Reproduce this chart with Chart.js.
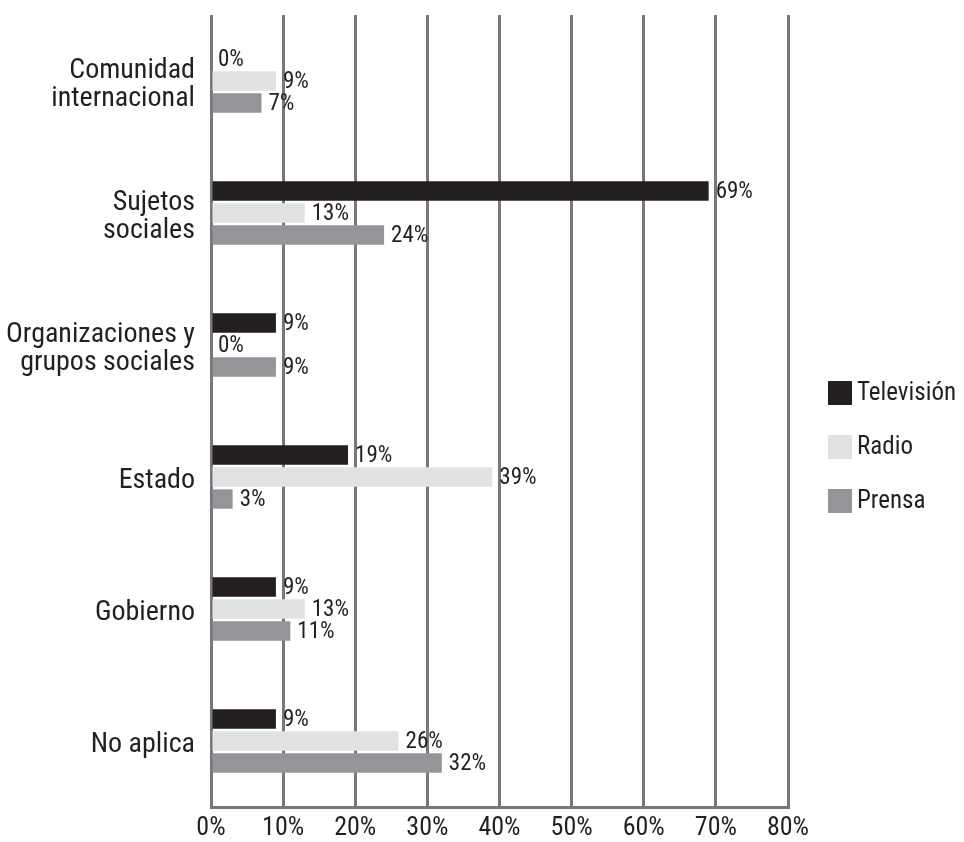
<!DOCTYPE html>
<html>
<head>
<meta charset="utf-8">
<script src="https://cdn.jsdelivr.net/npm/chart.js@4.4.1/dist/chart.umd.min.js"></script>
<style>
	html, body { margin: 0; padding: 0; background: #ffffff; }
	#canvas-wrap { position: relative; width: 964px; height: 842px; }
</style>
</head>
<body>
<div id="canvas-wrap"><canvas id="myChart"></canvas></div>
<script>
/* ====================================================================
 *
 * actores por medio
 *
 * ==================================================================== */
var categorias = [
	['Comunidad', 'internacional'],
	['Sujetos', 'sociales'],
	['Organizaciones y', 'grupos sociales'],
	'Estado',
	'Gobierno',
	'No aplica'
];
var series = ['Televisión', 'Radio', 'Prensa'];

var television = [0, 69, 9, 19, 9, 9];
var radio = [9, 13, 0, 39, 13, 26];
var prensa = [7, 24, 9, 3, 11, 32];

var ticks_x = [0, 10, 20, 30, 40, 50, 60, 70, 80];

const couleurs = ['#231f20', '#e1e2e4', '#939598'];
const gris_grille = '#77787b';
const police = '"Roboto Condensed", "Liberation Sans Narrow", sans-serif';

// etiquettes de valeur au bout des barres
var pluginValeurs = {
	id: 'valeurs',
	afterDatasetsDraw: function(chart) {
		var ctx = chart.ctx;
		ctx.save();
		ctx.font = '23px ' + police;
		ctx.fillStyle = '#231f20';
		ctx.textAlign = 'left';
		ctx.textBaseline = 'middle';
		chart.data.datasets.forEach(function(ds, i) {
			var meta = chart.getDatasetMeta(i);
			meta.data.forEach(function(bar, j) {
				ctx.fillText(ds.data[j] + '%', bar.x + 7, bar.y + 1);
			});
		});
		ctx.restore();
	}
};

// legende a droite
var pluginLegende = {
	id: 'legende',
	afterDraw: function(chart) {
		var ctx = chart.ctx;
		var area = chart.chartArea;
		var x = area.right + 40;
		var y0 = (area.top + area.bottom) / 2 + 36 - 54;
		ctx.save();
		ctx.font = '25px ' + police;
		ctx.textAlign = 'left';
		ctx.textBaseline = 'middle';
		chart.data.datasets.forEach(function(ds, i) {
			var y = y0 + i * 54;
			ctx.fillStyle = ds.backgroundColor;
			ctx.fillRect(x, y - 12, 24, 24);
			ctx.fillStyle = '#231f20';
			ctx.fillText(ds.label, x + 29, y + 1);
		});
		ctx.restore();
	}
};

function generer_diagramme()
{
	var ctx = document.getElementById('myChart').getContext('2d');

	var donnees = [television, radio, prensa];

	new Chart(ctx, {
		type: 'bar',
		data: {
			labels: categorias,
			datasets: series.map(function(nom, i) {
				return {
					label: nom,
					data: donnees[i],
					backgroundColor: couleurs[i],
					borderWidth: 0,
					categoryPercentage: 0.5,
					barPercentage: 0.88
				};
			})
		},
		options: {
			indexAxis: 'y',
			responsive: true,
			maintainAspectRatio: false,
			animation: false,
			layout: {
				padding: {top: 15, right: 176, bottom: 0, left: 0}
			},
			scales: {
				x: {
					min: 0,
					max: 80,
					afterBuildTicks: function(scale) {
						scale.ticks = ticks_x.map(function(v) { return {value: v}; });
					},
					afterFit: function(scale) {
						scale.height = 35;
						scale.paddingLeft = 0;
						scale.paddingRight = 0;
					},
					grid: {
						color: gris_grille,
						lineWidth: 3,
						drawTicks: false
					},
					border: {
						display: true,
						color: gris_grille,
						width: 3
					},
					ticks: {
						padding: 6,
						color: '#231f20',
						font: { family: police, size: 26 },
						callback: function(value) {
							return value + '%';
						}
					}
				},
				y: {
					afterFit: function(scale) {
						scale.width = 211;
						scale.paddingTop = 0;
						scale.paddingBottom = 0;
					},
					grid: { display: false },
					border: { display: false },
					ticks: {
						padding: 8,
						labelOffset: 4,
						color: '#231f20',
						font: { family: police, size: 28, lineHeight: 0.97 }
					}
				}
			},
			plugins: {
				legend: { display: false },
				tooltip: { enabled: false }
			}
		},
		plugins: [pluginValeurs, pluginLegende]
	});
} // generer_diagramme

generer_diagramme();
</script>
</body>
</html>
